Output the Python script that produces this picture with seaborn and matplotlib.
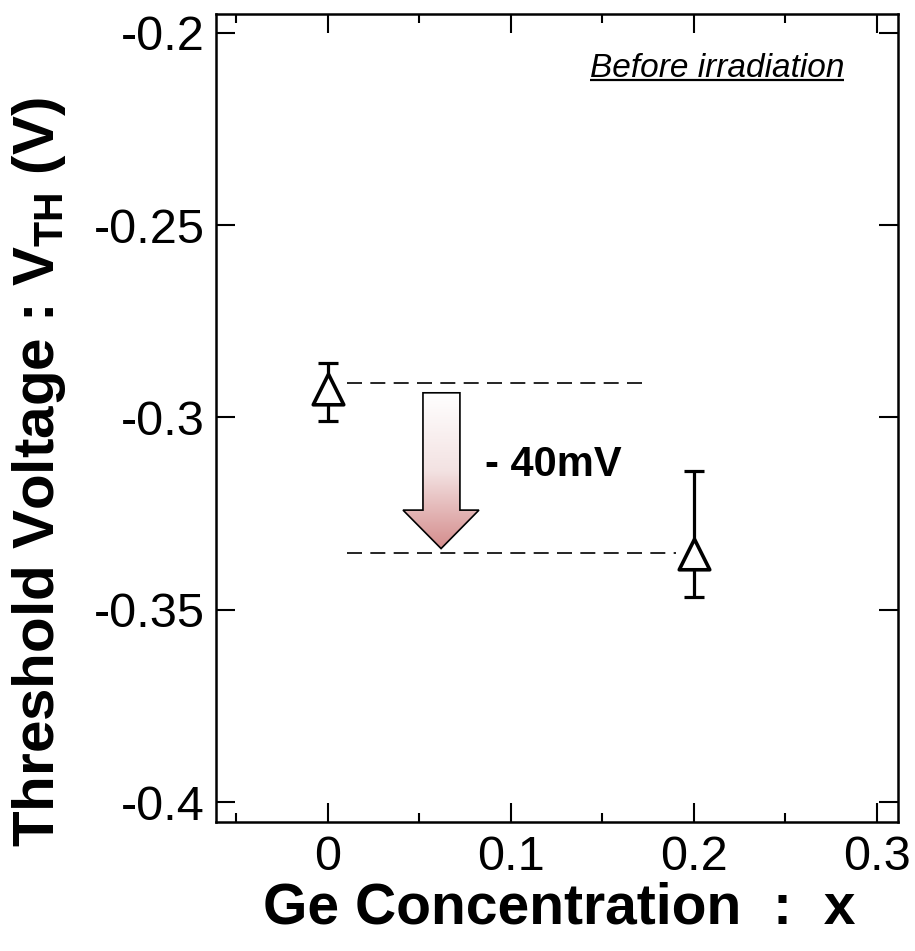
import numpy as np
import pandas as pd
import matplotlib
matplotlib.use("Agg")
import matplotlib.pyplot as plt
import seaborn as sns
from matplotlib.patches import Polygon
from matplotlib.colors import LinearSegmentedColormap
from matplotlib.ticker import MultipleLocator, FixedLocator

# ---------------- data ----------------
ge_conc = [0.0, 0.2]
vth_mean = [-0.2925, -0.3354]
vth_err_low = [0.0084, 0.0113]    # mean - lower cap
vth_err_high = [0.0067, 0.0215]   # upper cap - mean
guide_levels = [-0.2910, -0.3352]
guide_x_start = [0.0104, 0.0104]
guide_x_end = [0.1743, 0.1900]
shift_label = "- 40mV"
panel_note = "Before irradiation"
x_ticks = [0, 0.1, 0.2, 0.3]
x_ticklabels = ["0", "0.1", "0.2", "0.3"]
y_ticks = [-0.2, -0.25, -0.3, -0.35, -0.4]
y_ticklabels = ["-0.2", "-0.25", "-0.3", "-0.35", "-0.4"]

df = pd.DataFrame({"x": ge_conc, "vth": vth_mean})

# ---------------- style ----------------
sns.set_theme(style="white")
plt.rcParams["font.family"] = ["Liberation Sans", "DejaVu Sans"]
plt.rcParams["mathtext.fontset"] = "custom"
plt.rcParams["mathtext.rm"] = "Liberation Sans"
plt.rcParams["mathtext.bf"] = "Liberation Sans:bold"
plt.rcParams["mathtext.it"] = "Liberation Sans:italic"
for k in ["text.color", "axes.labelcolor", "xtick.color", "ytick.color", "axes.edgecolor"]:
    plt.rcParams[k] = "black"

fig = plt.figure(figsize=(9.15, 9.51), dpi=100)
ax = fig.add_axes([216 / 915, 1 - 822 / 951, (898 - 216) / 915, (822 - 14) / 951])

ax.set_xlim(-0.0612, 0.3115)
ax.set_ylim(-0.4052, -0.1951)

# error bars
ax.errorbar(ge_conc, vth_mean, yerr=[vth_err_low, vth_err_high], fmt="none",
            ecolor="black", elinewidth=2.3, capsize=7, capthick=2.3, zorder=3)
# markers
sns.scatterplot(data=df, x="x", y="vth", marker="^", s=22 ** 2, facecolor="white",
                edgecolor="black", linewidth=2.6, zorder=4, ax=ax, legend=False)

# dashed guide lines
for lvl, xs, xe in zip(guide_levels, guide_x_start, guide_x_end):
    ax.plot([xs, xe], [lvl, lvl], color="black", lw=1.2, dashes=(9, 5), zorder=2)

# gradient arrow
shaft_l, shaft_r = 0.0519, 0.0721
head_l, head_r = 0.0410, 0.0825
tip_x = 0.0618
top_y, head_y, tip_y = -0.2936, -0.3241, -0.3341
verts = [(shaft_l, top_y), (shaft_r, top_y), (shaft_r, head_y), (head_r, head_y),
         (tip_x, tip_y), (head_l, head_y), (shaft_l, head_y)]
arrow = Polygon(verts, closed=True, facecolor="none", edgecolor="black", lw=1.2, zorder=3)
ax.add_patch(arrow)
cmap = LinearSegmentedColormap.from_list("pinkgrad", ["#ffffff", "#f3e2e2", "#d48c8c"])
grad = np.linspace(0, 1, 256).reshape(-1, 1)
im = ax.imshow(grad, cmap=cmap, aspect="auto", origin="upper",
               extent=[head_l, head_r, tip_y, top_y], zorder=2.5)
im.set_clip_path(arrow)

ax.text(0.0858, -0.3124, shift_label, fontsize=30, fontweight="bold",
        ha="left", va="center", zorder=5)

# ticks
ax.xaxis.set_major_locator(FixedLocator(x_ticks))
ax.set_xticklabels(x_ticklabels)
ax.xaxis.set_minor_locator(MultipleLocator(0.05))
ax.yaxis.set_major_locator(FixedLocator(y_ticks))
ax.set_yticklabels(y_ticklabels)
ax.tick_params(which="both", direction="in", top=True, right=True,
               bottom=True, left=True, color="black", width=1.5)
ax.tick_params(which="major", length=13.5)
ax.tick_params(which="minor", length=6.5)
ax.tick_params(axis="y", which="minor", left=False, right=False)
ax.tick_params(axis="x", labelsize=35, pad=9)
ax.tick_params(axis="y", labelsize=35, pad=8)

for sp in ax.spines.values():
    sp.set_color("black")
    sp.set_linewidth(1.8)

ax.set_xlabel("Ge Concentration  :  x", fontsize=41, fontweight="bold")
ax.xaxis.set_label_coords(0.504, -0.074)
ax.set_ylabel(r"Threshold Voltage : V$_{\mathbf{TH}}$ (V)", fontsize=42, fontweight="bold")
ax.yaxis.set_label_coords(-0.217, 0.433)

note = ax.text(0.7346, 0.922, panel_note, transform=ax.transAxes, fontsize=24,
               style="italic", ha="center", va="baseline")
fig.canvas.draw()
bb = note.get_window_extent().transformed(ax.transAxes.inverted())
ax.plot([bb.x0, bb.x1], [0.918, 0.918], transform=ax.transAxes, color="black",
        lw=1.6, solid_capstyle="butt", clip_on=False)

fig.savefig("out.png", dpi=100)
